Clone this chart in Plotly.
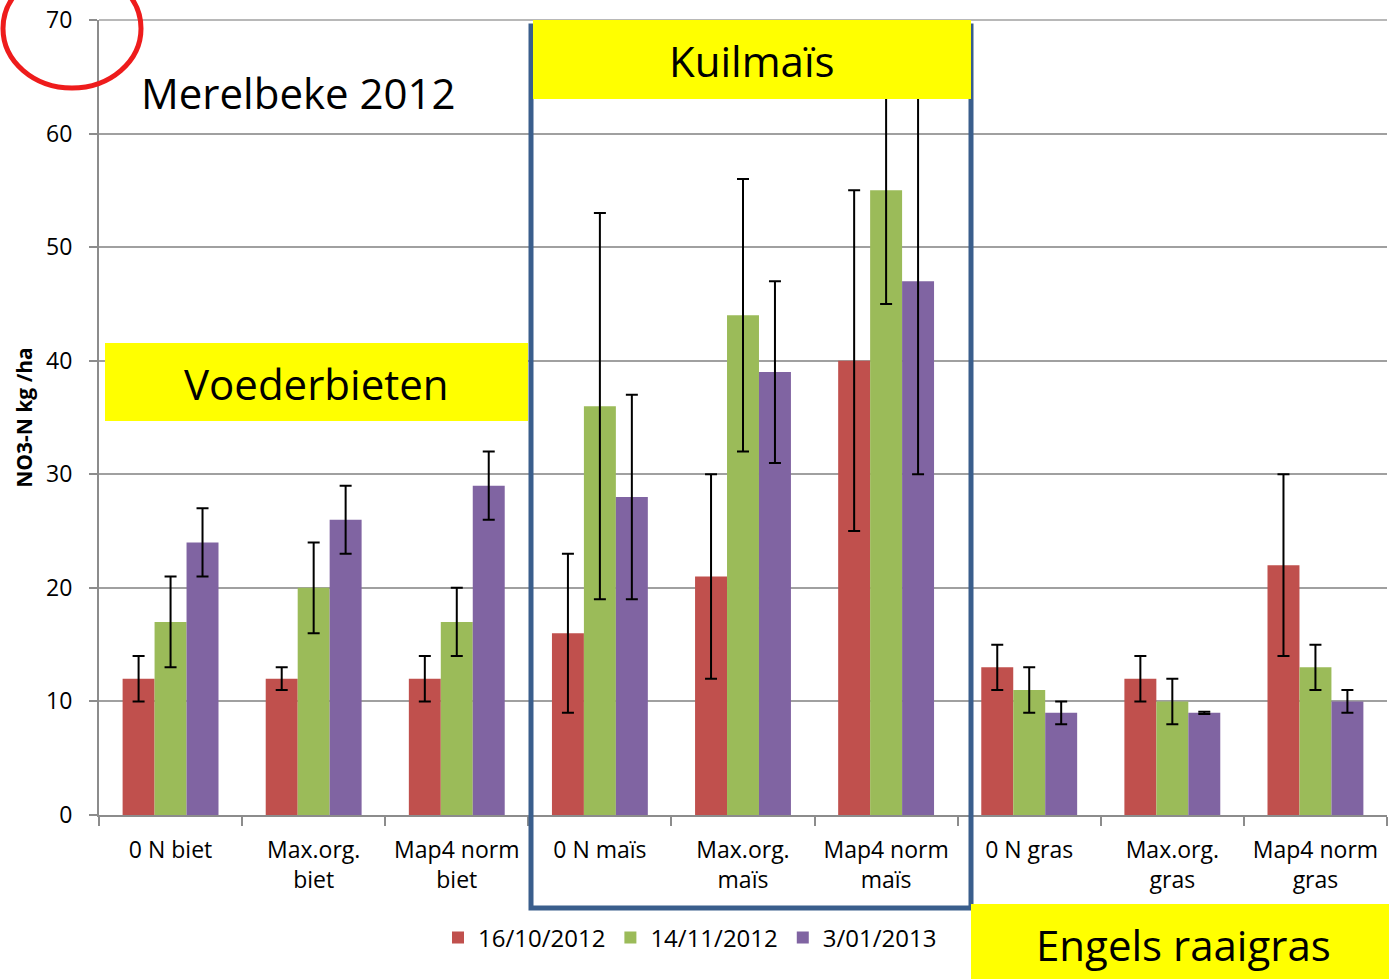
import plotly.graph_objects as go

categories = ["0 N biet", "Max.org.<br>biet", "Map4 norm<br>biet",
              "0 N maïs", "Max.org.<br>maïs", "Map4 norm<br>maïs",
              "0 N gras", "Max.org.<br>gras", "Map4 norm<br>gras"]
series_names = ["16/10/2012", "14/11/2012", "3/01/2013"]
v_1610 = [12, 12, 12, 16, 21, 40, 13, 12, 22]
v_1411 = [17, 20, 17, 36, 44, 55, 11, 10, 13]
v_0301 = [24, 26, 29, 28, 39, 47, 9, 9, 10]
e_1610 = [2, 1, 2, 7, 9, 15, 2, 2, 8]
e_1411 = [4, 4, 3, 17, 12, 10, 2, 2, 2]
e_0301 = [3, 3, 3, 9, 8, 17, 1, 0.1, 1]
colors = ["#C0504D", "#9BBB59", "#8064A2"]

FONT = "Open Sans"
W, H = 1389, 979
L, R, T, B = 99, 1387, 20, 815  # plot area in screen px

def px(x):
    return (x - L) / (R - L)

def py(y):
    return (B - y) / (B - T)

fig = go.Figure()
for name, vals, errs, col in zip(series_names, [v_1610, v_1411, v_0301],
                                 [e_1610, e_1411, e_0301], colors):
    fig.add_trace(go.Bar(
        x=categories, y=vals, name=name,
        marker=dict(color=col, line=dict(width=0)),
        error_y=dict(type="data", array=errs, visible=True,
                     color="black", thickness=2, width=6),
    ))

shapes = []
# top gridline (plot edge)
shapes.append(dict(type="line", xref="paper", yref="paper", x0=0, x1=1, y0=1, y1=1,
                   line=dict(color="#A0A0A0", width=1.5), layer="below"))
# blue rectangle around maïs group
shapes.append(dict(type="rect", xref="paper", yref="paper",
                   x0=px(531), x1=px(971), y0=py(908), y1=py(26),
                   line=dict(color="#3A5E8C", width=5), fillcolor="rgba(0,0,0,0)",
                   layer="above"))
# yellow boxes
for (x0, x1, y0, y1) in [(105, 528, 343, 421), (533, 971, 20, 99), (971, 1395, 904, 985)]:
    shapes.append(dict(type="rect", xref="paper", yref="paper",
                       x0=px(x0), x1=px(x1), y0=py(y1), y1=py(y0),
                       line=dict(width=0), fillcolor="#FFFF00", layer="above"))
# red ellipse
shapes.append(dict(type="circle", xref="paper", yref="paper",
                   x0=px(3), x1=px(141), y0=py(88), y1=py(-31),
                   line=dict(color="#EE1C1C", width=5), fillcolor="rgba(0,0,0,0)",
                   layer="above"))

annotations = []
for text, x, y in [("Merelbeke 2012", 298, 93), ("Voederbieten", 316, 383),
                   ("Kuilmaïs", 752, 61), ("Engels raaigras", 1183, 944)]:
    annotations.append(dict(text=text, xref="paper", yref="paper",
                            x=px(x), y=py(y), xanchor="center", yanchor="middle",
                            showarrow=False, font=dict(family=FONT, size=42, color="black")))

fig.update_layout(
    width=W, height=H,
    margin=dict(l=L, r=W - R, t=T, b=H - B),
    paper_bgcolor="white", plot_bgcolor="white",
    barmode="group", bargap=0.33, bargroupgap=0,
    font=dict(family=FONT, size=22, color="black"),
    shapes=shapes, annotations=annotations,
    legend=dict(orientation="h", x=px(690), y=py(938), xanchor="center", yanchor="middle",
                font=dict(family=FONT, size=24), bgcolor="rgba(0,0,0,0)",
                itemwidth=30, traceorder="normal"),
    showlegend=True,
)
fig.update_xaxes(
    type="category", showline=True, linecolor="#8C8C8C", linewidth=2,
    ticks="outside", tickson="boundaries", ticklen=9, tickcolor="#8C8C8C", tickwidth=2,
    tickfont=dict(family=FONT, size=23), showgrid=False, ticklabelstandoff=13,
)
fig.update_yaxes(
    range=[0, 70], dtick=10, showline=True, linecolor="#8C8C8C", linewidth=2,
    ticks="outside", ticklen=8, tickcolor="#8C8C8C", tickwidth=2,
    showgrid=True, gridcolor="#A0A0A0", gridwidth=1.5, zeroline=False,
    tickfont=dict(family=FONT, size=23), ticklabelstandoff=12, ticklabeloverflow="allow",
    title=dict(text="<b>NO3-N kg /ha</b>", font=dict(family=FONT, size=21), standoff=8),
)

fig.write_html("out.html", config={"displayModeBar": False},
               post_script="document.body.style.margin='0';document.body.style.padding='0';")
